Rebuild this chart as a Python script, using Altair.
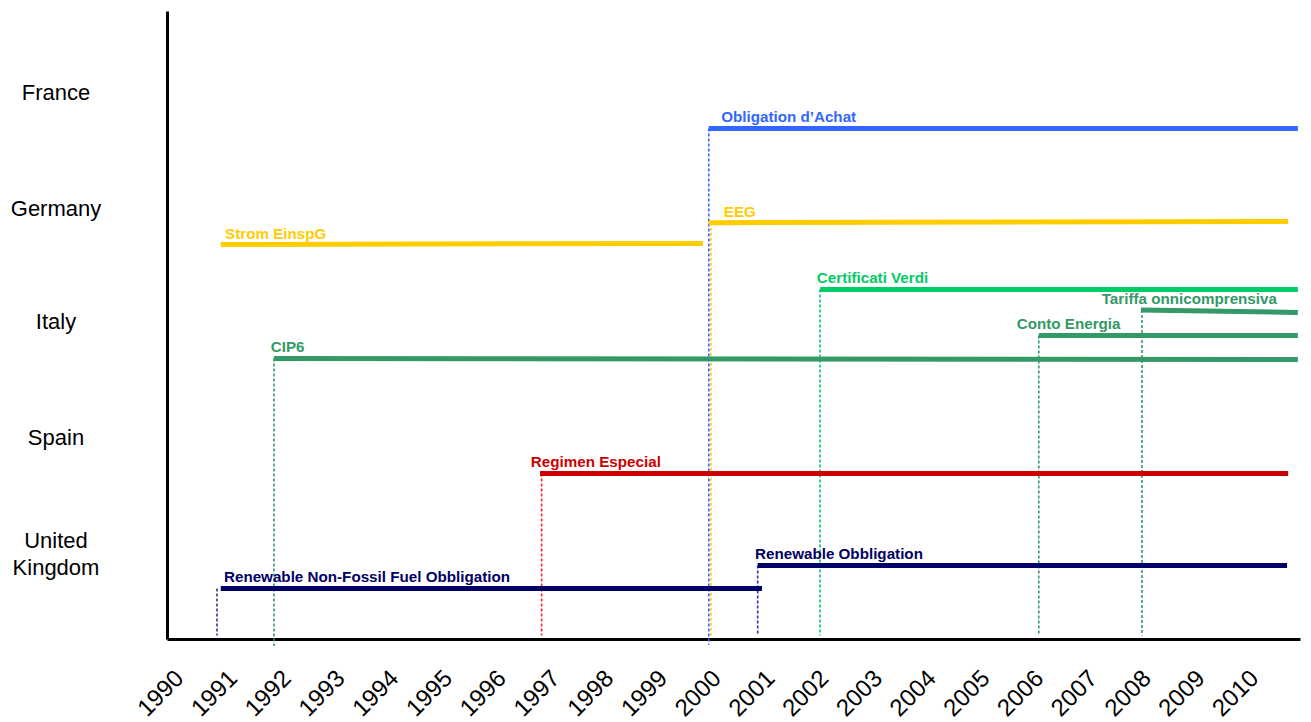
import altair as alt
import pandas as pd

# ---- data ----
years = list(range(1990, 2011))

countries = ["France", "Germany", "Italy", "Spain", "United|Kingdom"]
country_pos = [4.75, 3.74, 2.76, 1.75, 0.74]

policies = [
    "Obligation d\u2019Achat",
    "Strom EinspG",
    "EEG",
    "Certificati Verdi",
    "Tariffa onnicomprensiva",
    "Conto Energia",
    "CIP6",
    "Regimen Especial",
    "Renewable Obbligation",
    "Renewable Non-Fossil Fuel Obbligation",
]
start_year = [1999.82, 1990.74, 1999.82, 2001.89, 2007.86, 2005.96, 1991.73, 1996.68, 2000.73, 1990.74]
end_year = [2010.78, 1999.71, 2010.60, 2010.78, 2010.78, 2010.78, 2010.78, 2010.60, 2010.58, 2000.81]
lane_start = [4.44, 3.43, 3.62, 3.04, 2.86, 2.64, 2.44, 1.44, 0.64, 0.44]
lane_end = [4.44, 3.44, 3.63, 3.04, 2.84, 2.64, 2.43, 1.44, 0.64, 0.44]
label_year = [2000.05, 1990.82, 2000.10, 2001.83, 2007.13, 2005.55, 1991.67, 1996.51, 2000.68, 1990.80]
bar_color = ["#3366FF", "#FFCC00", "#FFCC00", "#00CC66", "#339966", "#339966",
             "#339966", "#CC0000", "#000066", "#000066"]

# vertical start markers (dotted)
marker_policy = ["Obligation d\u2019Achat", "EEG", "Certificati Verdi", "Tariffa onnicomprensiva",
                 "Conto Energia", "CIP6", "Regimen Especial", "Renewable Obbligation",
                 "Renewable Non-Fossil Fuel Obbligation"]
marker_year = [1999.82, 1999.86, 2001.89, 2007.88, 2005.96, 1991.73, 1996.71, 2000.73, 1990.67]
marker_top = [4.44, 3.62, 3.04, 2.86, 2.64, 2.44, 1.44, 0.64, 0.44]
marker_bottom = [-0.05, 0.03, 0.03, 0.03, 0.03, -0.06, 0.03, 0.03, 0.03]
marker_color = ["#3366FF", "#FFCC00", "#00CC66", "#339966", "#339966", "#339966",
                "#FF2222", "#333399", "#333399"]

bars_df = pd.DataFrame({
    "policy": policies, "start": start_year, "end": end_year,
    "lane": lane_start, "lane2": lane_end, "label_x": label_year, "color": bar_color,
})
marks_df = pd.DataFrame({
    "policy": marker_policy, "x": marker_year, "top": marker_top,
    "bottom": marker_bottom, "color": marker_color,
})

x_scale = alt.Scale(domain=[1989.74, 2010.82], nice=False, zero=False)
y_scale = alt.Scale(domain=[0, 5.461], nice=False, zero=False)

names_js = "[" + ",".join("'" + c + "'" for c in countries) + "]"
vals_js = "[" + ",".join(str(v) for v in country_pos) + "]"

x_axis = alt.Axis(
    values=years, format="d", title=None, grid=False, ticks=False, tickSize=0,
    labelAngle=-45, labelAlign="right", labelBaseline="top", labelPadding=27,
    labelOffset=-10,
    labelFontSize=24, labelFont="Liberation Sans", labelColor="black",
    labelOverlap=False, labelFlush=False, labelBound=False,
    domainColor="black", domainWidth=3,
)
y_axis = alt.Axis(
    values=country_pos, title=None, grid=False, ticks=False, tickSize=0,
    labelExpr="split(" + names_js + "[indexof(" + vals_js + ", datum.value)], '|')",
    labelAlign="center", labelBaseline="middle", labelPadding=111.5,
    labelOffset={"condition": {"test": "datum.value < 1", "value": -13.5}, "value": 0},
    labelFontSize=22, labelFont="Liberation Sans", labelColor="black",
    labelLineHeight=27, labelOverlap=False, labelFlush=False, labelBound=False,
    domainColor="black", domainWidth=3,
)

markers = alt.Chart(marks_df).mark_rule(strokeWidth=1.6, strokeDash=[3, 2]).encode(
    x=alt.X("x:Q", scale=x_scale, axis=x_axis),
    y=alt.Y("top:Q", scale=y_scale, axis=y_axis),
    y2="bottom:Q",
    color=alt.Color("color:N", scale=None),
)

bars = alt.Chart(bars_df).mark_rule(strokeWidth=5, strokeCap="butt").encode(
    x=alt.X("start:Q", scale=x_scale),
    x2="end:Q",
    y=alt.Y("lane:Q", scale=y_scale),
    y2="lane2:Q",
    color=alt.Color("color:N", scale=None),
)

labels = alt.Chart(bars_df).mark_text(
    align="left", baseline="alphabetic", dy=-6,
    font="Liberation Sans", fontWeight="bold", fontSize=15.2,
).encode(
    x=alt.X("label_x:Q", scale=x_scale),
    y=alt.Y("lane:Q", scale=y_scale),
    text="policy:N",
    color=alt.Color("color:N", scale=None),
)

chart = alt.layer(markers, bars, labels).properties(
    width=1133, height=628,
    autosize=alt.AutoSizeParams(type="none"),
    padding={"left": 159, "top": 3, "right": 3, "bottom": 80},
    background="white",
).configure_view(stroke=None)

chart.save("out.html", embed_options={"renderer": "svg", "actions": False})
